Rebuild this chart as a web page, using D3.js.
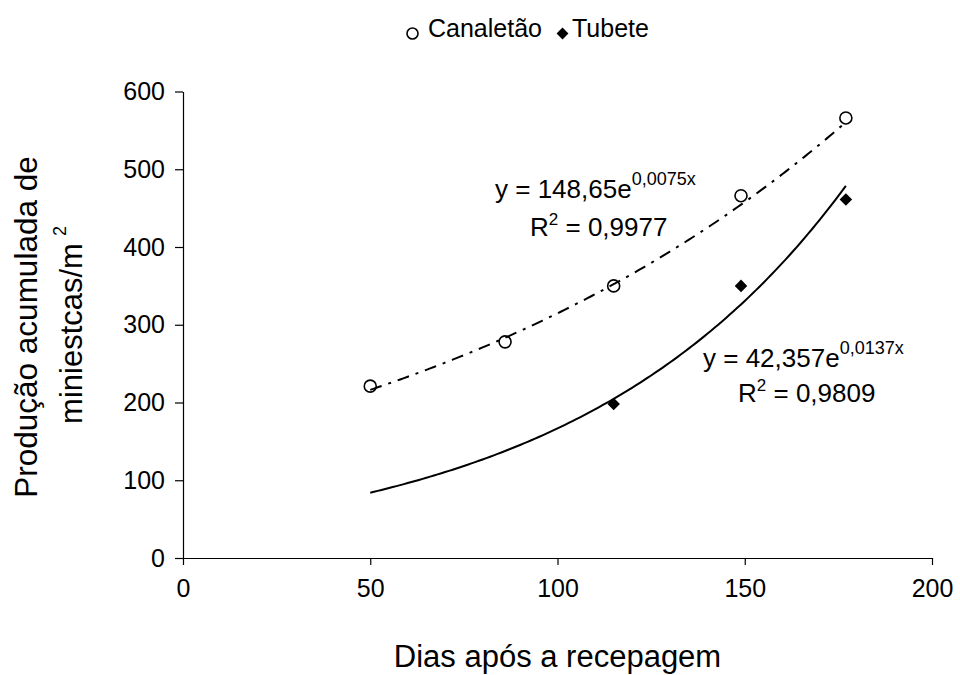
<!DOCTYPE html>
<html>
<head>
<meta charset="utf-8">
<script src="https://cdn.jsdelivr.net/npm/d3@7"></script>
<style>
  body { margin: 0; background: #fff; }
  svg { display: block; font-family: "Liberation Sans", Arial, sans-serif; }
  .axis path, .axis line { stroke: #000; stroke-width: 1.2; }
  .axis text { font-size: 25px; fill: #000; }
</style>
</head>
<body>
<svg class="chart"></svg>
<script>
// pontos medidos
var diasCanaletao = [50, 86, 115, 149, 177];
var prodCanaletao = [221, 278, 350, 466, 566];
var diasTubete = [115, 149, 177];
var prodTubete = [198, 350, 461];

// ajustes exponenciais (y = a * e^(b x)) mostrados no grafico
var ajusteCanaletao = {a: 148.65, b: 0.0075, de: 50, ate: 177};
var ajusteTubete = {a: 42.357, b: 0.0137, de: 50, ate: 177};

var xTicks = [0, 50, 100, 150, 200];
var yTicks = [0, 100, 200, 300, 400, 500, 600];

var width = 960, height = 675;

var svg = d3.select(".chart")
    .attr("width", width)
    .attr("height", height);

var x = d3.scaleLinear()
    .domain([0, 200])
    .range([183, 932]);

var y = d3.scaleLinear()
    .domain([0, 600])
    .range([558, 91.5]);

var xAxis = d3.axisBottom(x).tickValues(xTicks).tickSize(7).tickPadding(14).tickSizeOuter(0);
var yAxis = d3.axisLeft(y).tickValues(yTicks).tickSize(8).tickPadding(10).tickSizeOuter(0);

svg.append("g")
    .attr("class", "x axis")
    .attr("transform", "translate(0," + y(0) + ")")
    .call(xAxis)
  .selectAll("text")
    .attr("dy", "0.71em");

svg.append("g")
    .attr("class", "y axis")
    .attr("transform", "translate(" + x(0) + ",0)")
    .call(yAxis);

svg.selectAll(".axis .domain").attr("stroke", "#000");

// linhas de tendencia
function curva(aj) {
  var pts = d3.range(aj.de, aj.ate + 0.01, 1).map(function(d) {
    return [d, aj.a * Math.exp(aj.b * d)];
  });
  return pts;
}

var line = d3.line()
    .x(function(d) { return x(d[0]); })
    .y(function(d) { return y(d[1]); });

svg.append("path")
    .datum(curva(ajusteCanaletao))
    .attr("d", line)
    .attr("fill", "none")
    .attr("stroke", "#000")
    .attr("stroke-width", 2)
    .attr("stroke-dasharray", "12,7,3,7");

svg.append("path")
    .datum(curva(ajusteTubete))
    .attr("d", line)
    .attr("fill", "none")
    .attr("stroke", "#000")
    .attr("stroke-width", 2);

// marcadores
svg.selectAll("circle.canaletao")
    .data(diasCanaletao)
  .enter().append("circle")
    .attr("class", "canaletao")
    .attr("cx", function(d) { return x(d); })
    .attr("cy", function(d, i) { return y(prodCanaletao[i]); })
    .attr("r", 6)
    .attr("fill", "none")
    .attr("stroke", "#000")
    .attr("stroke-width", 1.6);

var diamond = d3.symbol().type(d3.symbolDiamond2).size(100);

svg.selectAll("path.tubete")
    .data(diasTubete)
  .enter().append("path")
    .attr("class", "tubete")
    .attr("d", diamond)
    .attr("transform", function(d, i) { return "translate(" + x(d) + "," + y(prodTubete[i]) + ")"; })
    .attr("fill", "#000");

// legenda
var legend = svg.append("g").attr("font-size", "25px");
legend.append("circle")
    .attr("cx", 412.5).attr("cy", 33.5).attr("r", 5.5)
    .attr("fill", "none").attr("stroke", "#000").attr("stroke-width", 1.6);
legend.append("text").attr("x", 428).attr("y", 37).text("Canaletão");
legend.append("path")
    .attr("d", d3.symbol().type(d3.symbolDiamond2).size(90))
    .attr("transform", "translate(562.5,33.5)");
legend.append("text").attr("x", 572).attr("y", 37).text("Tubete");

// equacoes
function equacao(px, py, a, b) {
  var t = svg.append("text").attr("x", px).attr("y", py).attr("font-size", "26px");
  t.append("tspan").text("y = " + a + "e");
  t.append("tspan").attr("dy", -13).attr("font-size", "18px").text(b);
}
function r2(px, py, v) {
  var t = svg.append("text").attr("x", px).attr("y", py).attr("font-size", "26px");
  t.append("tspan").text("R");
  t.append("tspan").attr("dy", -11).attr("font-size", "17px").text("2");
  t.append("tspan").attr("dy", 11).text(" = " + v);
}
equacao(495, 198, "148,65", "0,0075x");
r2(530, 236, "0,9977");
equacao(703, 367, "42,357", "0,0137x");
r2(738, 402, "0,9809");

// titulos dos eixos
svg.append("text")
    .attr("x", 557.5).attr("y", 667)
    .attr("text-anchor", "middle")
    .attr("font-size", "31px")
    .text("Dias após a recepagem");

svg.append("text")
    .attr("transform", "translate(37,327) rotate(-90)")
    .attr("text-anchor", "middle")
    .attr("font-size", "31.5px")
    .text("Produção acumulada de");

var yt = svg.append("text")
    .attr("transform", "translate(82,325) rotate(-90)")
    .attr("text-anchor", "middle")
    .attr("font-size", "31px");
yt.append("tspan").text("miniestcas/m");
yt.append("tspan").attr("dx", 7).attr("dy", -16).attr("font-size", "18px").text("2");
</script>
</body>
</html>
